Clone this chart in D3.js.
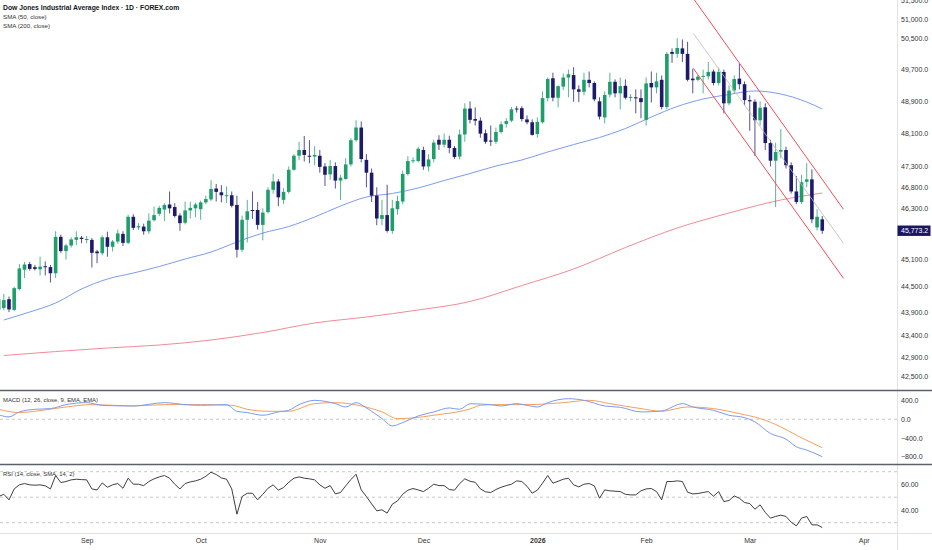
<!DOCTYPE html>
<html>
<head>
<meta charset="utf-8">
<script src="https://cdn.jsdelivr.net/npm/d3@7"></script>
<style>
	body { margin: 0; background: #ffffff; }
	svg { display: block; font-family: "Liberation Sans", Arial, sans-serif; }
</style>
</head>
<body>
<svg id="chart"></svg>
<script>
// bar numbers: Sep 1 2025 = 16 ... first candle on screen is Aug 7 (bar -1)
const firstBar = -1;

const opens = [43960, 44000, 44200, 43960, 44430, 44870, 45000, 44930, 44880, 44950, 44930,
	44790, 45630, 45300, 45430, 45560, 45610, 45560, 45560, 45290, 45250,
	45620, 45400, 45520, 45700, 45490, 46100, 45850, 45870, 45760, 46020,
	46170, 46270, 46390, 46330, 46130, 45960, 46250, 46300, 46280, 46440,
	46510, 46770, 46680, 46590, 46610, 46380, 45330, 46030, 46260, 46260,
	45910, 46210, 46740, 46940, 46500, 46690, 47220, 47560, 47700, 47560,
	47540, 47560, 47300, 47110, 47310, 46960, 47000, 47350, 47940, 48250,
	47460, 47150, 46600, 46050, 46140, 45770, 46280, 46460, 47120, 47430,
	47430, 47700, 47300, 47480, 47950, 47830, 47950, 47750, 47540, 48080,
	48720, 48460, 48420, 48110, 47930, 47900, 48140, 48340, 48420, 48720,
	48730, 48450, 48380, 48090, 48380, 48980, 49480, 48990, 49270, 49500,
	49560, 49200, 49140, 49440, 49360, 48900, 48500, 49070, 49390, 49100,
	49290, 48990, 49000, 48980, 48440, 49360, 49250, 49440, 48760, 50150,
	50100, 50240, 50100, 49470, 49440, 49520, 49530, 49650, 49360, 49640,
	48850, 49170, 49470, 49330, 48930, 48890, 48430, 48750, 47870, 47440,
	47660, 47700, 47330, 46700, 46450, 46930, 46990, 45850, 46040];
const highs = [44260, 44320, 44260, 44480, 45000, 45050, 45050, 44980, 45170, 45060, 44980,
	45760, 45680, 45470, 45620, 45760, 45650, 45650, 45600, 45330, 45660,
	45750, 45560, 45800, 45760, 46150, 46160, 45950, 45940, 46180, 46340,
	46360, 46420, 46700, 46420, 46180, 46460, 46460, 46430, 46480, 46600,
	46970, 46880, 46850, 46820, 46700, 46600, 46130, 46500, 46700, 46450,
	46300, 46800, 47120, 47000, 46780, 47300, 47600, 47900, 48040, 47940,
	47790, 47700, 47380, 47460, 47400, 47100, 47500, 47990, 48430, 48400,
	47600, 47250, 46800, 46500, 46860, 46500, 46600, 47200, 47550, 47520,
	47780, 47780, 47600, 47950, 48060, 48100, 48050, 47800, 48200, 48850,
	48900, 48750, 48500, 48200, 48300, 48250, 48400, 48480, 48760, 48780,
	48780, 48550, 48450, 48500, 49150, 49500, 49620, 49300, 49600, 49700,
	49760, 49300, 49620, 49650, 49400, 49000, 49150, 49620, 49450, 49500,
	49450, 49080, 49200, 49200, 49500, 49650, 49620, 49550, 50150, 50240,
	50500, 50470, 50410, 49720, 49560, 49700, 49890, 49700, 49750, 49700,
	49300, 49550, 49850, 49400, 49050, 48950, 48900, 48850, 47950, 47880,
	48210, 47780, 47400, 47070, 47100, 47380, 47230, 46280, 46120];
const lows = [43900, 43950, 43910, 43930, 44400, 44680, 44850, 44850, 44740, 44740, 44580,
	44680, 45260, 45100, 45380, 45440, 45480, 45480, 44920, 45020, 45200,
	45170, 45290, 45470, 45420, 45460, 45790, 45790, 45680, 45700, 45990,
	46120, 46000, 46180, 46080, 45770, 45920, 46060, 46090, 46030, 46400,
	46470, 46460, 46440, 46430, 46320, 45150, 45280, 45500, 46050, 45800,
	45550, 46180, 46650, 46350, 46400, 46650, 47200, 47450, 47420, 47380,
	47330, 47150, 46830, 46980, 46770, 46500, 46980, 47300, 47900, 47400,
	46800, 46450, 45900, 45900, 45730, 45700, 46150, 46400, 47080, 47380,
	47400, 47220, 47180, 47400, 47700, 47760, 47620, 47480, 47470, 47900,
	48350, 48300, 48000, 47850, 47800, 47850, 48100, 48250, 48380, 48620,
	48400, 48330, 48050, 48000, 48350, 48900, 48900, 48750, 49180, 49000,
	48890, 48880, 49050, 49250, 48900, 48450, 48350, 49000, 49000, 48700,
	48950, 48900, 48600, 48480, 48300, 48870, 49100, 48700, 48700, 49870,
	50000, 49890, 49400, 49100, 49400, 49100, 49450, 49300, 49300, 48600,
	48800, 49100, 49200, 48800, 48170, 47550, 48300, 47700, 47300, 46330,
	47500, 47250, 46650, 46400, 46400, 46800, 45950, 45780, 45700];
const closes = [44200, 44180, 43970, 44450, 44900, 44990, 44890, 44890, 44940, 44930, 44790,
	45630, 45300, 45430, 45570, 45620, 45580, 45580, 45260, 45250, 45620,
	45400, 45520, 45710, 45490, 46100, 45840, 45880, 45760, 46010, 46140,
	46310, 46380, 46300, 46120, 45950, 46250, 46310, 46390, 46440, 46520,
	46760, 46690, 46610, 46610, 46360, 45330, 46030, 46230, 46250, 45910,
	46200, 46740, 46940, 46560, 46690, 47220, 47560, 47700, 47580, 47540,
	47580, 47290, 47100, 47310, 46960, 47030, 47350, 47940, 48250, 47480,
	47150, 46600, 46060, 46140, 45770, 46300, 46470, 47120, 47430, 47450,
	47730, 47300, 47470, 47880, 47830, 47950, 47750, 47530, 48080, 48720,
	48440, 48420, 48100, 47900, 47910, 48140, 48330, 48410, 48700, 48700,
	48460, 48380, 48070, 48390, 48980, 49460, 48990, 49280, 49500, 49580,
	49200, 49140, 49440, 49360, 48950, 48520, 49060, 49390, 49100, 49280,
	48990, 49010, 48990, 48880, 49350, 49250, 49400, 48760, 50100, 50100,
	50250, 50100, 49440, 49430, 49520, 49540, 49640, 49360, 49640, 48850,
	49170, 49460, 49330, 48930, 48900, 48430, 48740, 47870, 47440, 47650,
	47700, 47330, 46700, 46450, 46920, 46990, 46040, 46100, 45773.2];

// moving averages, every few bars
const sma50Bars = [0, 5, 10, 15, 20, 25, 30, 35, 40, 45, 50, 55, 60, 65, 70, 75, 80, 85, 90, 95, 100,
	105, 110, 115, 120, 125, 130, 135, 140, 145, 150, 155, 158];
const sma50 = [43733, 43912, 44114, 44430, 44658, 44795, 44944, 45117, 45278, 45510, 45719, 45871,
	46095, 46354, 46568, 46652, 46783, 46962, 47130, 47311, 47457, 47651, 47833, 48005, 48226,
	48510, 48771, 48958, 49071, 49159, 49083, 48883, 48709];
const sma200Bars = [0, 10, 20, 30, 40, 50, 60, 70, 80, 90, 100, 110, 120, 130, 140, 150, 158];
const sma200 = [42947, 43034, 43112, 43178, 43288, 43455, 43666, 43800, 43957, 44148, 44510,
	44887, 45382, 45837, 46189, 46497, 46663];

// parallel channel drawn on the chart: [bar, price] at both ends
const channelUpper = [[133.1, 51542], [162.1, 46276]];
const channelMiddle = [[133.1, 50629], [162.1, 45480]];
const channelLower = [[133.1, 49732], [162.1, 44674]];

// MACD (12, 26, 9)
const macdBars = [-1, 1, 3, 6, 9, 12, 16, 19, 25, 31, 35, 38, 43, 45, 47, 50, 53, 55, 57, 60, 62, 64,
	66, 68, 70, 73, 75, 77, 80, 83, 86, 88, 90, 94, 96, 99, 101, 103, 105, 109, 112, 116, 119, 123,
	127, 131, 133, 137, 140, 143, 145, 148, 151, 153, 155, 158];
const macdLine = [95, 50, 156, 212, 227, 312, 354, 297, 283, 354, 312, 297, 312, 170, 142, 85, 156,
	191, 312, 404, 382, 333, 262, 354, 241, 14, -142, -71, 71, 156, 241, 212, 330, 312, 283, 333,
	297, 262, 354, 439, 404, 283, 255, 156, 177, 333, 262, 191, 85, 35, -57, -304, -425, -588,
	-658, -800];
const signalBars = [-1, 3, 6, 12, 17, 25, 31, 38, 44, 47, 51, 55, 60, 64, 69, 73, 76, 79, 83, 90, 92,
	95, 101, 108, 113, 117, 123, 127, 132, 137, 142, 146, 150, 153, 158];
const signalLine = [212, 142, 170, 262, 312, 283, 312, 312, 297, 212, 170, 170, 333, 354, 283, 156,
	14, 28, 85, 220, 297, 312, 312, 354, 404, 333, 227, 170, 262, 227, 120, 14, -163, -340, -609];

// RSI (14), one value per candle
const rsi = [50.5, 52.3, 47.9, 56.5, 59.7, 60.7, 59.7, 59.4, 59.7, 58.9, 56.5,
	67, 61.5, 62.3, 63.6, 64.1, 63.8, 63.6, 56.5, 55.7, 61.2,
	57.8, 59.7, 60.7, 57, 64.9, 60.2, 60.2, 59.1, 62.3, 64.4,
	65.9, 67, 64.9, 60.2, 56.5, 60.7, 62, 62.8, 64.1, 66.4,
	69.6, 67.8, 65.1, 64.1, 56.5, 36.7, 50.5, 53.1, 53.1, 47.9,
	52.3, 57, 59.7, 55.5, 57.6, 61.7, 64.9, 65.9, 64.9, 64.4,
	63.6, 59.7, 57, 59.1, 52.6, 53.7, 58.9, 63.8, 68, 55.7,
	50.5, 44.8, 39.3, 40.1, 37.5, 44.5, 47.1, 52.3, 55.5, 56.8,
	55.7, 54.4, 57, 60.2, 59.1, 59.1, 56, 55.5, 60.7, 64.4,
	62.5, 61.7, 56.5, 54.2, 53.7, 56, 57.8, 59.1, 60.2, 62.8,
	62.3, 58.6, 53.1, 55.5, 61, 67, 61, 62.5, 64.1, 64.9,
	59.7, 58.1, 60.2, 60.7, 58.9, 49.2, 55.7, 55, 54.7, 54.4,
	52.3, 51.8, 51.8, 55, 56.5, 56.8, 54.4, 47.9, 62.3, 62.3,
	62.8, 62.3, 53.9, 52.6, 52.9, 53.7, 54.4, 50.8, 54.4, 46.6,
	47.4, 51, 49.2, 45.8, 45, 40.6, 44, 38, 33.6, 34.9,
	35.9, 34.9, 30.4, 27.5, 33.6, 34.9, 28.3, 28.3, 26.2];

// axes
const priceTicks = [51500, 51000, 50500, 49700, 48900, 48100, 47300, 46800, 46300, 45100, 44500,
	43900, 43400, 42900, 42500];
const macdTicks = [400, 0, -400, -800];
const rsiTicks = [60, 40];
const rsiBands = [70, 50, 30];
const monthBars = [16, 38, 61, 81, 103, 124, 144, 166];
const monthLabels = ["Sep", "Oct", "Nov", "Dec", "2026", "Feb", "Mar", "Apr"];

const W = 932, H = 550;
const plotRight = 897;
const green = "#1f9e6b", navy = "#1d1a6c";

const svg = d3.select("#chart").attr("width", W).attr("height", H);

const candles = closes.map((c, i) => ({
	bar: firstBar + i, o: opens[i], h: highs[i], l: lows[i], c: c
}));

// scales
const x = d3.scaleLinear().domain([16, 166]).range([86.7, 863.7]);
const y = d3.scaleLog().domain([42500, 51000]).range([376, 19]);
const yMacd = d3.scaleLinear().domain([-800, 400]).range([456.7, 400.5]);
const yRsi = d3.scaleLinear().domain([30, 70]).range([522.7, 471.7]);

// clip paths for the three panes
const defs = svg.append("defs");
[["clipMain", 0, 390], ["clipMacd", 391, 73], ["clipRsi", 465, 68]].forEach((c) => {
	defs.append("clipPath").attr("id", c[0])
		.append("rect").attr("x", 0).attr("y", c[1]).attr("width", plotRight).attr("height", c[2]);
});

// pane frames
svg.append("line").attr("x1", plotRight + 0.5).attr("x2", plotRight + 0.5).attr("y1", 0).attr("y2", H)
	.attr("stroke", "#e0e3eb");
svg.append("line").attr("x1", 0).attr("x2", W).attr("y1", 533.5).attr("y2", 533.5).attr("stroke", "#e0e3eb");
[390.5, 464.5].forEach((yy) => {
	svg.append("line").attr("x1", 0).attr("x2", W).attr("y1", yy).attr("y2", yy)
		.attr("stroke", "#5d606b").attr("stroke-width", 1.3);
});

// main pane
const main = svg.append("g").attr("clip-path", "url(#clipMain)");

const maLine = (bars, vals) => d3.line()
	.x((d, i) => x(bars[i])).y((d) => y(d)).curve(d3.curveMonotoneX)(vals);

main.append("path").attr("d", maLine(sma200Bars, sma200))
	.attr("fill", "none").attr("stroke", "#f28b96").attr("stroke-width", 1);
main.append("path").attr("d", maLine(sma50Bars, sma50))
	.attr("fill", "none").attr("stroke", "#7c9bf2").attr("stroke-width", 1);

const bodyW = 3.6;
const cg = main.append("g");
cg.selectAll("line.wick").data(candles).enter().append("line")
	.attr("class", "wick")
	.attr("x1", (d) => x(d.bar)).attr("x2", (d) => x(d.bar))
	.attr("y1", (d) => y(d.h)).attr("y2", (d) => y(d.l))
	.attr("stroke", (d) => (d.c >= d.o ? green : navy)).attr("stroke-width", 1)
	.attr("stroke-opacity", 0.75);
cg.selectAll("rect.body").data(candles).enter().append("rect")
	.attr("class", "body")
	.attr("x", (d) => x(d.bar) - bodyW / 2)
	.attr("width", bodyW)
	.attr("y", (d) => y(Math.max(d.o, d.c)))
	.attr("height", (d) => Math.max(1, y(Math.min(d.o, d.c)) - y(Math.max(d.o, d.c))))
	.attr("fill", (d) => (d.c >= d.o ? green : navy));

// channel
const chLine = d3.line().x((d) => x(d[0])).y((d) => y(d[1]));
main.append("path").attr("d", chLine(channelMiddle))
	.attr("fill", "none").attr("stroke", "#bdbdbd").attr("stroke-width", 0.8);
[channelUpper, channelLower].forEach((c) => {
	main.append("path").attr("d", chLine(c))
		.attr("fill", "none").attr("stroke", "#f04c5c").attr("stroke-width", 1);
});

// legend
const legend = svg.append("g").attr("fill", "#131722");
legend.append("text").attr("x", 3).attr("y", 9.5).attr("font-size", 6.8).attr("font-weight", 600)
	.text("Dow Jones Industrial Average Index · 1D · FOREX.com");
legend.append("text").attr("x", 3).attr("y", 18.5).attr("font-size", 6.2).attr("fill", "#333").text("SMA (50, close)");
legend.append("text").attr("x", 3).attr("y", 27.5).attr("font-size", 6.2).attr("fill", "#333").text("SMA (200, close)");

// price axis
const priceAxis = svg.append("g").attr("transform", `translate(${plotRight},0)`)
	.call(d3.axisRight(y).tickValues(priceTicks).tickFormat(d3.format(",.1f")).tickSize(0).tickPadding(4));
priceAxis.select(".domain").remove();
priceAxis.selectAll("text").attr("font-size", 7).attr("fill", "#333").attr("font-family", null);

// last price tag
const last = candles[candles.length - 1];
svg.append("rect").attr("x", plotRight + 0.5).attr("y", y(last.c) - 5.2).attr("width", 33).attr("height", 10.4)
	.attr("fill", "#1b1566");
svg.append("text").attr("x", plotRight + 4).attr("y", y(last.c) + 2.5)
	.attr("font-size", 7).attr("fill", "#ffffff").text(d3.format(",.1f")(last.c));

// MACD pane
const macdG = svg.append("g").attr("clip-path", "url(#clipMacd)");
macdG.append("line").attr("x1", 0).attr("x2", plotRight).attr("y1", yMacd(0)).attr("y2", yMacd(0))
	.attr("stroke", "#c8c8c8").attr("stroke-dasharray", "3,3");
const macdPath = (bars, vals) => d3.line()
	.x((d, i) => x(bars[i])).y((d) => yMacd(d)).curve(d3.curveMonotoneX)(vals);
macdG.append("path").attr("d", macdPath(signalBars, signalLine))
	.attr("fill", "none").attr("stroke", "#f5a05a").attr("stroke-width", 1);
macdG.append("path").attr("d", macdPath(macdBars, macdLine))
	.attr("fill", "none").attr("stroke", "#7c9bf2").attr("stroke-width", 1);
svg.append("text").attr("x", 3).attr("y", 401.5).attr("font-size", 5.9).attr("fill", "#333")
	.text("MACD (12, 26, close, 9, EMA, EMA)");
const macdAxis = svg.append("g").attr("transform", `translate(${plotRight},0)`)
	.call(d3.axisRight(yMacd).tickValues(macdTicks).tickFormat(d3.format(".1f")).tickSize(0).tickPadding(4));
macdAxis.select(".domain").remove();
macdAxis.selectAll("text").attr("font-size", 7).attr("fill", "#333").attr("font-family", null);

// RSI pane
const rsiG = svg.append("g").attr("clip-path", "url(#clipRsi)");
rsiBands.forEach((b) => {
	rsiG.append("line").attr("x1", 0).attr("x2", plotRight).attr("y1", yRsi(b)).attr("y2", yRsi(b))
		.attr("stroke", "#c8c8c8").attr("stroke-dasharray", "3,3");
});
rsiG.append("path")
	.attr("d", d3.line().x((d, i) => x(firstBar + i)).y((d) => yRsi(d))(rsi))
	.attr("fill", "none").attr("stroke", "#2a2a2a").attr("stroke-width", 0.9);
svg.append("text").attr("x", 3).attr("y", 475.5).attr("font-size", 5.9).attr("fill", "#333")
	.text("RSI (14, close, SMA, 14, 2)");
const rsiAxis = svg.append("g").attr("transform", `translate(${plotRight},0)`)
	.call(d3.axisRight(yRsi).tickValues(rsiTicks).tickFormat(d3.format(".2f")).tickSize(0).tickPadding(4));
rsiAxis.select(".domain").remove();
rsiAxis.selectAll("text").attr("font-size", 7).attr("fill", "#333").attr("font-family", null);

// time axis
const timeAxis = svg.append("g").attr("transform", "translate(0,534)")
	.call(d3.axisBottom(x).tickValues(monthBars).tickFormat((d, i) => monthLabels[i]).tickSize(0).tickPadding(4));
timeAxis.select(".domain").remove();
timeAxis.selectAll("text").attr("font-size", 7).attr("fill", "#333").attr("font-family", null)
	.attr("font-weight", (d, i) => (monthLabels[i] === "2026" ? "bold" : null));
</script>
</body>
</html>
